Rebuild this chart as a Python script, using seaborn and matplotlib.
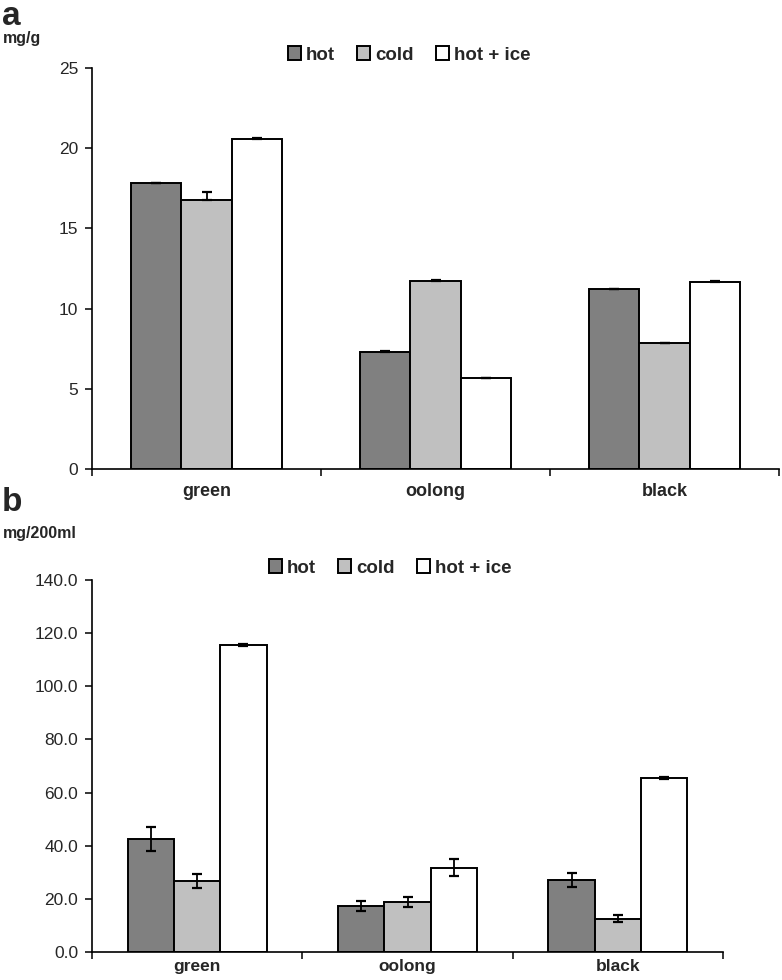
import matplotlib
matplotlib.use("Agg")
import matplotlib.pyplot as plt
import seaborn as sns
import pandas as pd
import numpy as np
from matplotlib.ticker import FixedLocator, FormatStrFormatter

sns.set_theme(style="white")
plt.rcParams['font.family'] = ['Liberation Sans', 'DejaVu Sans']

teas = ["green", "oolong", "black"]
methods = ["hot", "cold", "hot + ice"]
colors = ["#808080", "#c0c0c0", "#ffffff"]

# panel a (mg/g)
a_hot = [17.8, 7.3, 11.2]
a_cold = [16.8, 11.75, 7.85]
a_ice = [20.55, 5.65, 11.65]
a_hot_err = [0.05, 0.03, 0.04]
a_cold_err = [0.45, 0.05, 0.0]
a_ice_err = [0.06, 0.0, 0.06]

# panel b (mg/200ml)
b_hot = [42.5, 17.4, 27.0]
b_cold = [26.7, 18.7, 12.5]
b_ice = [115.5, 31.7, 65.5]
b_hot_err = [4.4, 1.8, 2.7]
b_cold_err = [2.7, 1.9, 1.3]
b_ice_err = [0.4, 3.2, 0.3]


def make_df(h, c, i):
    rows = []
    for m, vals in zip(methods, [h, c, i]):
        for t, v in zip(teas, vals):
            rows.append({"tea": t, "method": m, "value": v})
    return pd.DataFrame(rows)


fig = plt.figure(figsize=(7.82, 9.8), dpi=100)
ax_a = fig.add_axes([92/782, 1-469/980, 687/782, (469-68)/980])
ax_b = fig.add_axes([92/782, 1-952/980, 631/782, (952-580)/980])


def draw(ax, h, c, i, eh, ec, ei, ymax, ystep, fmt, one_sided, leg_xy, xpad, xfs):
    df = make_df(h, c, i)
    sns.barplot(data=df, x="tea", y="value", hue="method", order=teas,
                hue_order=methods, palette=colors, width=0.66, gap=0,
                edgecolor="black", linewidth=1.4, errorbar=None, ax=ax,
                saturation=1)
    errs = [eh, ec, ei]
    bar_conts = list(ax.containers)
    for k, cont in enumerate(bar_conts):
        xs = [p.get_x() + p.get_width()/2 for p in cont.patches]
        ys = [p.get_height() for p in cont.patches]
        e = np.array(errs[k])
        if one_sided:
            yerr = [np.zeros_like(e), e]
        else:
            yerr = e
        ax.errorbar(xs, ys, yerr=yerr, fmt="none", ecolor="black",
                    elinewidth=1.3, capsize=3.5, capthick=1.6, zorder=5)
    ax.set_xlim(-0.5, 2.5)
    ax.set_ylim(0, ymax)
    ax.set_xlabel("")
    ax.set_ylabel("")
    ax.set_yticks(np.arange(0, ymax + 0.001, ystep))
    ax.yaxis.set_major_formatter(FormatStrFormatter(fmt))
    ax.xaxis.set_minor_locator(FixedLocator([-0.5, 0.5, 1.5, 2.5]))
    ax.tick_params(axis="x", which="major", length=0, pad=xpad)
    ax.tick_params(axis="x", which="minor", length=5, width=1.1,
                   direction="out", bottom=True, color="black")
    ax.tick_params(axis="y", length=5, width=1.1, direction="out", left=True,
                   color="black", labelsize=12.5, pad=5)
    for lab in ax.get_xticklabels():
        lab.set_fontweight("bold")
        lab.set_fontsize(xfs)
    for s in ["top", "right"]:
        ax.spines[s].set_visible(False)
    for s in ["left", "bottom"]:
        ax.spines[s].set_color("black")
        ax.spines[s].set_linewidth(1.2)
    handles, labels = ax.get_legend_handles_labels()
    if ax.get_legend() is not None:
        ax.get_legend().remove()
    fig.legend(handles, labels, loc="center", bbox_to_anchor=leg_xy,
               ncol=3, frameon=False, handlelength=0.7, handleheight=0.7,
               handletextpad=0.25, columnspacing=1.2,
               prop={"weight": "bold", "size": 13.5})


draw(ax_a, a_hot, a_cold, a_ice, a_hot_err, a_cold_err, a_ice_err,
     25, 5, "%d", True, (409/782, 1-55/980), 10, 13)
draw(ax_b, b_hot, b_cold, b_ice, b_hot_err, b_cold_err, b_ice_err,
     140, 20, "%.1f", False, (390/782, 1-568/980), 5, 12.5)

fig.text(0.002, 1-1/980, "a", fontsize=24, fontweight="bold", va="top", ha="left")
fig.text(0.004, 1-31/980, "mg/g", fontsize=11.5, fontweight="bold", va="top", ha="left")
fig.text(0.002, 1-487/980, "b", fontsize=24, fontweight="bold", va="top", ha="left")
fig.text(0.004, 1-526/980, "mg/200ml", fontsize=11.5, fontweight="bold", va="top", ha="left")

fig.savefig("out.png", dpi=100)
